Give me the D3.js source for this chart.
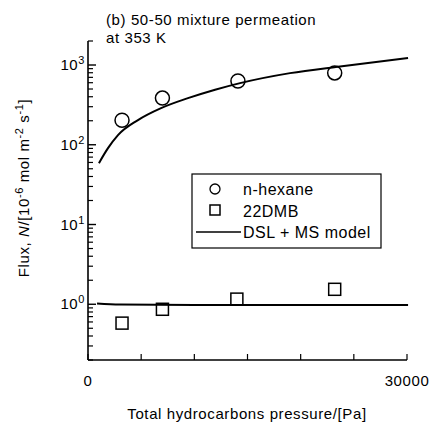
<!DOCTYPE html>
<html>
<head>
<meta charset="utf-8">
<script src="https://cdn.jsdelivr.net/npm/d3@7"></script>
<style>
  body { margin: 0; background: #fff; }
  text { font-family: "Liberation Sans", Arial, sans-serif; fill: #000; letter-spacing: 0.6px; }
</style>
</head>
<body>
<script>
// n-hexane and 22DMB measured flux (Pa, 10^-6 mol m^-2 s^-1)
const hexPressure = [3200, 7000, 14100, 23200];
const hexFlux = [203, 385, 630, 795];
const dmbPressure = [3200, 7000, 14000, 23200];
const dmbFlux = [0.58, 0.865, 1.16, 1.54];

// DSL + MS model curves
const hexModelP = [1030, 1880, 2820, 4700, 6870, 9400, 11950, 14300, 19000, 23700, 30100];
const hexModelN = [58.8, 90.6, 132, 204, 288, 384, 490, 593, 791, 960, 1222];
const dmbModelP = [850, 3000, 10000, 30100];
const dmbModelN = [1.02, 0.99, 0.98, 0.98];

const xTicks = [0, 5000, 10000, 15000, 20000, 25000, 30000];
const xLabels = [0, 30000];
const yDecades = [1, 10, 100, 1000];

const W = 437, H = 423;
const svg = d3.select("body").append("svg")
    .attr("width", W)
    .attr("height", H);

const x = d3.scaleLinear().domain([0, 30000]).range([88, 407]);
const y = d3.scaleLog().domain([0.2, 2000]).range([360, 41]);

// axes lines
svg.append("line")
    .attr("x1", x(0)).attr("x2", x(0))
    .attr("y1", y(2000)).attr("y2", y(0.2))
    .attr("stroke", "#000").attr("stroke-width", 1.6);
svg.append("line")
    .attr("x1", x(0)).attr("x2", x(30000))
    .attr("y1", y(0.2)).attr("y2", y(0.2))
    .attr("stroke", "#000").attr("stroke-width", 1.6);

// y ticks, pointing inward
const yMinor = y.ticks().filter(t => !yDecades.includes(t));
svg.selectAll(".ymin")
    .data(yMinor)
    .join("line")
    .attr("x1", x(0)).attr("x2", x(0) + 5)
    .attr("y1", d => y(d)).attr("y2", d => y(d))
    .attr("stroke", "#000").attr("stroke-width", 1.2);
svg.selectAll(".ymaj")
    .data(yDecades)
    .join("line")
    .attr("x1", x(0)).attr("x2", x(0) + 8)
    .attr("y1", d => y(d)).attr("y2", d => y(d))
    .attr("stroke", "#000").attr("stroke-width", 1.4);

const ylab = svg.selectAll(".ylab")
    .data(yDecades)
    .join("text")
    .attr("x", x(0) - 3)
    .attr("y", d => y(d) + 5)
    .attr("text-anchor", "end")
    .style("font-size", "15px");
ylab.append("tspan").text("10");
ylab.append("tspan")
    .attr("dy", -6)
    .style("font-size", "11px")
    .text(d => Math.round(Math.log10(d)));

// x ticks, pointing up
svg.selectAll(".xtick")
    .data(xTicks)
    .join("line")
    .attr("x1", d => x(d)).attr("x2", d => x(d))
    .attr("y1", y(0.2)).attr("y2", y(0.2) - 6)
    .attr("stroke", "#000").attr("stroke-width", 1.2);
svg.selectAll(".xlab")
    .data(xLabels)
    .join("text")
    .attr("x", d => x(d))
    .attr("y", 386)
    .attr("text-anchor", "middle")
    .style("font-size", "15px")
    .text(d => d);

svg.append("text")
    .attr("x", 247)
    .attr("y", 419)
    .attr("text-anchor", "middle")
    .style("font-size", "15px")
    .text("Total hydrocarbons pressure/[Pa]");

// y title
const yt = svg.append("text")
    .attr("transform", "translate(29,188) rotate(-90)")
    .attr("text-anchor", "middle")
    .style("font-size", "15px");
yt.append("tspan").text("Flux, ");
yt.append("tspan").style("font-style", "italic").text("N");
yt.append("tspan").text("/[10");
yt.append("tspan").attr("dy", -6).style("font-size", "11px").text("-6");
yt.append("tspan").attr("dy", 6).text(" mol m");
yt.append("tspan").attr("dy", -6).style("font-size", "11px").text("-2");
yt.append("tspan").attr("dy", 6).text(" s");
yt.append("tspan").attr("dy", -6).style("font-size", "11px").text("-1");
yt.append("tspan").attr("dy", 6).text("]");

// panel title
svg.append("text").attr("x", 106).attr("y", 25)
    .style("font-size", "15px").text("(b) 50-50 mixture permeation");
svg.append("text").attr("x", 106).attr("y", 43)
    .style("font-size", "15px").text("at 353 K");

// model lines
const line = d3.line().x(d => x(d[0])).y(d => y(d[1])).curve(d3.curveMonotoneX);
svg.append("path")
    .datum(d3.zip(hexModelP, hexModelN))
    .attr("d", line)
    .attr("fill", "none").attr("stroke", "#000").attr("stroke-width", 2);
svg.append("path")
    .datum(d3.zip(dmbModelP, dmbModelN))
    .attr("d", line)
    .attr("fill", "none").attr("stroke", "#000").attr("stroke-width", 2);

// data points
svg.selectAll(".hex")
    .data(d3.zip(hexPressure, hexFlux))
    .join("circle")
    .attr("cx", d => x(d[0])).attr("cy", d => y(d[1]))
    .attr("r", 7)
    .attr("fill", "none").attr("stroke", "#000").attr("stroke-width", 1.5);
svg.selectAll(".dmb")
    .data(d3.zip(dmbPressure, dmbFlux))
    .join("rect")
    .attr("x", d => x(d[0]) - 6).attr("y", d => y(d[1]) - 6)
    .attr("width", 12).attr("height", 12)
    .attr("fill", "none").attr("stroke", "#000").attr("stroke-width", 1.5);

// legend
const lg = svg.append("g").attr("transform", "translate(192,174)");
lg.append("rect")
    .attr("width", 189).attr("height", 74)
    .attr("fill", "#fff").attr("stroke", "#000").attr("stroke-width", 1.2);
lg.append("circle").attr("cx", 23).attr("cy", 15).attr("r", 5)
    .attr("fill", "none").attr("stroke", "#000").attr("stroke-width", 1.3);
lg.append("rect").attr("x", 18).attr("y", 31).attr("width", 10).attr("height", 10)
    .attr("fill", "none").attr("stroke", "#000").attr("stroke-width", 1.5);
lg.append("line").attr("x1", 4).attr("x2", 49).attr("y1", 58).attr("y2", 58)
    .attr("stroke", "#000").attr("stroke-width", 1.5);
const legendLabels = ["n-hexane", "22DMB", "DSL + MS model"];
lg.selectAll(".lt")
    .data(legendLabels)
    .join("text")
    .attr("x", 51)
    .attr("y", (d, i) => 21 + i * 21.5)
    .style("font-size", "16px")
    .style("letter-spacing", "0.5px")
    .text(d => d);
</script>
</body>
</html>
